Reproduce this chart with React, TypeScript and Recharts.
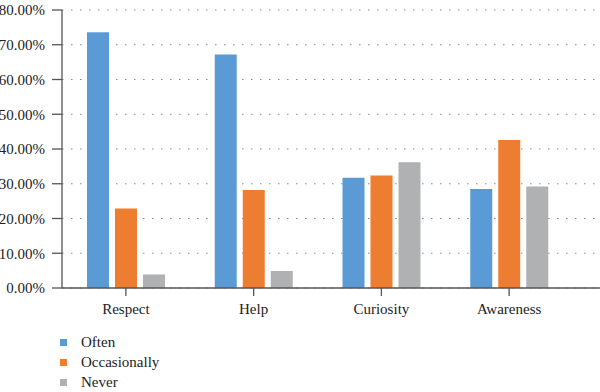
import React from 'react';
import { BarChart, Bar, XAxis, YAxis, CartesianGrid, Legend } from 'recharts';

const categories = ['Respect', 'Help', 'Curiosity', 'Awareness'];
const often = [0.736, 0.672, 0.317, 0.285];
const occasionally = [0.229, 0.282, 0.324, 0.426];
const never = [0.039, 0.049, 0.362, 0.292];
const yTicks = [0, 0.1, 0.2, 0.3, 0.4, 0.5, 0.6, 0.7, 0.8];

const seriesNames = ['Often', 'Occasionally', 'Never'];
const colors = ['#5B9BD5', '#ED7D31', '#B0B1B3'];

const data = categories.map((c, i) => ({
  name: c,
  Often: often[i],
  Occasionally: occasionally[i],
  Never: never[i],
}));

const FONT = '"Liberation Serif", "DejaVu Serif", serif';

const LegendContent = (props: any) => {
  const payload = [...(props.payload || [])].sort(
    (a: any, b: any) => seriesNames.indexOf(a.value) - seriesNames.indexOf(b.value)
  );
  return (
    <div style={{ fontFamily: FONT, fontSize: 15, color: '#222', textAlign: 'left' }}>
      {payload.map((p: any) => (
        <div key={p.value} style={{ display: 'flex', alignItems: 'center', height: 20 }}>
          <span style={{ display: 'inline-block', width: 7, height: 7, background: p.color, marginRight: 14 }} />
          <span>{p.value}</span>
        </div>
      ))}
    </div>
  );
};

export default function App() {
  return (
    <div style={{ position: 'absolute', left: 0, top: 0, width: 600, height: 392, background: '#fff' }}>
      <BarChart
        width={600}
        height={392}
        data={data}
        margin={{ top: 10, right: 0, left: 0, bottom: 74 }}
        barGap={6}
      >
        <CartesianGrid vertical={false} stroke="#8a8a8a" strokeDasharray="1.5 7.5" />
        <XAxis
          dataKey="name"
          height={30}
          padding={{ left: 0, right: 27 }}
          tickSize={8}
          tickMargin={7}
          stroke="#555"
          strokeWidth={1.3}
          tick={{ fill: '#222', fontSize: 15, fontFamily: FONT }}
        />
        <YAxis
          width={62}
          domain={[0, 0.8]}
          ticks={yTicks}
          interval={0}
          tickSize={10}
          tickMargin={7}
          stroke="#555"
          strokeWidth={1.3}
          tickFormatter={(v: number) => (v * 100).toFixed(2) + '%'}
          tick={{ fill: '#222', fontSize: 15, fontFamily: FONT }}
        />
        <Legend
          layout="horizontal"
          align="center"
          verticalAlign="middle"
          content={<LegendContent />}
          wrapperStyle={{ position: 'absolute', left: 60, top: 332, width: 200 }}
        />
        {seriesNames.map((s, i) => (
          <Bar key={s} dataKey={s} name={s} fill={colors[i]} barSize={22} isAnimationActive={false} />
        ))}
      </BarChart>
    </div>
  );
}
